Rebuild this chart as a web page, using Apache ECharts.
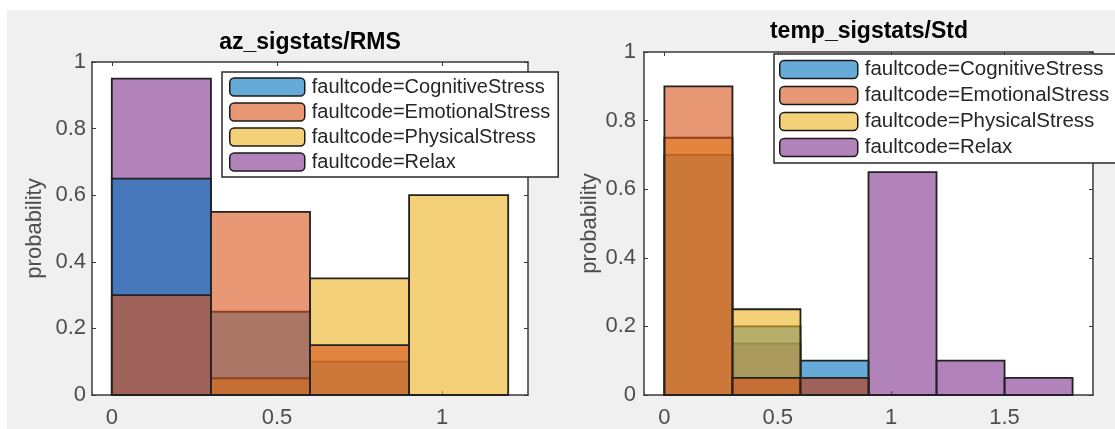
<!DOCTYPE html>
<html><head><meta charset="utf-8">
<script src="https://cdn.jsdelivr.net/npm/echarts@6/dist/echarts.min.js"></script>
<style>html,body{margin:0;padding:0;background:#fff}#c{width:1115px;height:429px}</style>
</head><body><div id="c"></div>
<script>
// ---------------- data ----------------
const seriesNames = ['faultcode=CognitiveStress', 'faultcode=EmotionalStress', 'faultcode=PhysicalStress', 'faultcode=Relax'];
const seriesColors = ['rgba(0,114,189,0.6)', 'rgba(217,83,25,0.6)', 'rgba(237,177,32,0.6)', 'rgba(126,47,142,0.6)'];
const binWidth = 0.3;

// az_sigstats/RMS
const leftTitle = 'az_sigstats/RMS';
const binStartsLeft = [0, 0.3, 0.6, 0.9];
const cognitiveLeft = [0.65, 0.25, 0.10, 0];
const emotionalLeft = [0.30, 0.55, 0.15, 0];
const physicalLeft  = [0, 0.05, 0.35, 0.60];
const relaxLeft     = [0.95, 0.05, 0, 0];
const xTicksLeft = [0, 0.5, 1];

// temp_sigstats/Std
const rightTitle = 'temp_sigstats/Std';
const binStartsRight = [0, 0.3, 0.6, 0.9, 1.2, 1.5];
const cognitiveRight = [0.70, 0.20, 0.10, 0, 0, 0];
const emotionalRight = [0.90, 0.05, 0.05, 0, 0, 0];
const physicalRight  = [0.75, 0.25, 0, 0, 0, 0];
const relaxRight     = [0, 0.15, 0.05, 0.65, 0.10, 0.05];
const xTicksRight = [0, 0.5, 1, 1.5];

const yLabel = 'probability';

// ---------------- chart ----------------
const FONT = '"Liberation Sans", Arial, sans-serif';
const AXIS_COLOR = '#3a3a3a';
const LABEL_COLOR = '#4d4d4d';

function bins(starts, vals) {
  return starts.map((s, i) => [s, s + binWidth, vals[i]]);
}
function renderBin(params, api) {
  const x0 = api.value(0), x1 = api.value(1), v = api.value(2);
  if (!v) return null;
  const p0 = api.coord([x0, v]);
  const p1 = api.coord([x1, 0]);
  return {
    type: 'rect',
    shape: { x: p0[0], y: p0[1], width: p1[0] - p0[0], height: p1[1] - p0[1] },
    style: { fill: api.visual('color'), stroke: '#222', lineWidth: 1.8 }
  };
}
function histSeries(name, color, data, axisIdx) {
  return {
    type: 'custom', name: name, renderItem: renderBin,
    xAxisIndex: axisIdx, yAxisIndex: axisIdx,
    itemStyle: { color: color },
    encode: { x: [0, 1], y: 2 },
    data: data, silent: true
  };
}
function xAxisBottom(grid, min, max, ticks) {
  return {
    type: 'value', gridIndex: grid, position: 'bottom', min: min, max: max,
    axisLine: { show: true, onZero: false, lineStyle: { color: AXIS_COLOR, width: 1.5 } },
    axisTick: { show: true, inside: true, length: 4, customValues: ticks, lineStyle: { color: AXIS_COLOR } },
    axisLabel: { customValues: ticks, fontSize: 22, color: LABEL_COLOR, fontFamily: FONT, margin: 12 },
    splitLine: { show: false }
  };
}
function xAxisTop(grid, min, max, ticks) {
  return {
    type: 'value', gridIndex: grid, position: 'top', min: min, max: max,
    axisLine: { show: true, onZero: false, lineStyle: { color: AXIS_COLOR, width: 1.5 } },
    axisTick: { show: true, inside: true, length: 4, customValues: ticks, lineStyle: { color: AXIS_COLOR } },
    axisLabel: { show: false, customValues: ticks },
    splitLine: { show: false }
  };
}
function yAxisLeft(grid, gap, margin) {
  return {
    type: 'value', gridIndex: grid, position: 'left', min: 0, max: 1, interval: 0.2,
    name: yLabel, nameLocation: 'middle', nameGap: gap,
    nameTextStyle: { fontSize: 22, color: LABEL_COLOR, fontFamily: FONT },
    axisLine: { show: true, onZero: false, lineStyle: { color: AXIS_COLOR, width: 1.5 } },
    axisTick: { show: true, inside: true, length: 4, lineStyle: { color: AXIS_COLOR } },
    axisLabel: { fontSize: 22, color: LABEL_COLOR, fontFamily: FONT, margin: margin },
    splitLine: { show: false }
  };
}
function yAxisRight(grid) {
  return {
    type: 'value', gridIndex: grid, position: 'right', min: 0, max: 1, interval: 0.2,
    axisLine: { show: true, onZero: false, lineStyle: { color: AXIS_COLOR, width: 1.5 } },
    axisTick: { show: true, inside: true, length: 4, lineStyle: { color: AXIS_COLOR } },
    axisLabel: { show: false },
    splitLine: { show: false }
  };
}
function legendAt(left, top, iw, gap, pad, fs) {
  return {
    data: seriesNames, orient: 'vertical', left: left, top: top,
    itemWidth: iw, itemHeight: 18, itemGap: gap, padding: pad,
    backgroundColor: '#fff', borderColor: '#2a2a2a', borderWidth: 1.5, borderRadius: 0,
    icon: 'roundRect', selectedMode: false,
    itemStyle: { borderColor: '#1a1a1a', borderWidth: 1.5 },
    textStyle: { fontSize: fs, color: '#262626', fontFamily: FONT, padding: [0, 0, 0, 2] }
  };
}

const drawOrder = [3, 0, 2, 1]; // Relax bottom, Cognitive, Physical, Emotional on top
const leftVals = [cognitiveLeft, emotionalLeft, physicalLeft, relaxLeft];
const rightVals = [cognitiveRight, emotionalRight, physicalRight, relaxRight];
const series = [];
drawOrder.forEach(i => series.push(histSeries(seriesNames[i], seriesColors[i], bins(binStartsLeft, leftVals[i]), 0)));
drawOrder.forEach(i => series.push(histSeries(seriesNames[i], seriesColors[i], bins(binStartsRight, rightVals[i]), 1)));

const option = {
  backgroundColor: '#f0f0f0',
  animation: false,
  color: seriesColors,
  textStyle: { fontFamily: FONT },
  graphic: [
    { type: 'rect', left: 0, top: 0, shape: { width: 1115, height: 10 }, style: { fill: '#fff' }, silent: true },
    { type: 'rect', left: 0, top: 0, shape: { width: 7, height: 429 }, style: { fill: '#fff' }, silent: true },
    { type: 'text', x: 310, y: 43, style: { text: leftTitle, textAlign: 'center', textVerticalAlign: 'middle', font: 'bold 23px ' + FONT, fill: '#000' } },
    { type: 'text', x: 869, y: 32, style: { text: rightTitle, textAlign: 'center', textVerticalAlign: 'middle', font: 'bold 23px ' + FONT, fill: '#000' } }
  ],
  grid: [
    { left: 92, top: 62, width: 436, height: 333, show: true, backgroundColor: '#fff', borderWidth: 0 },
    { left: 644, top: 52, width: 449, height: 343, show: true, backgroundColor: '#fff', borderWidth: 0 }
  ],
  xAxis: [
    xAxisBottom(0, -0.06, 1.26, xTicksLeft),
    xAxisBottom(1, -0.09, 1.89, xTicksRight),
    xAxisTop(0, -0.06, 1.26, xTicksLeft),
    xAxisTop(1, -0.09, 1.89, xTicksRight)
  ],
  yAxis: [
    yAxisLeft(0, 46, 6),
    yAxisLeft(1, 43, 8),
    yAxisRight(0),
    yAxisRight(1)
  ],
  legend: [
    legendAt(222, 72, 75, 5, [5, 8, 5, 7], 20),
    legendAt(774, 54, 78, 5, [5, 8, 5, 5], 20.5)
  ],
  series: series
};
const chart = echarts.init(document.getElementById('c'), null, { renderer: 'canvas' });
chart.setOption(option);
</script>
</body></html>
